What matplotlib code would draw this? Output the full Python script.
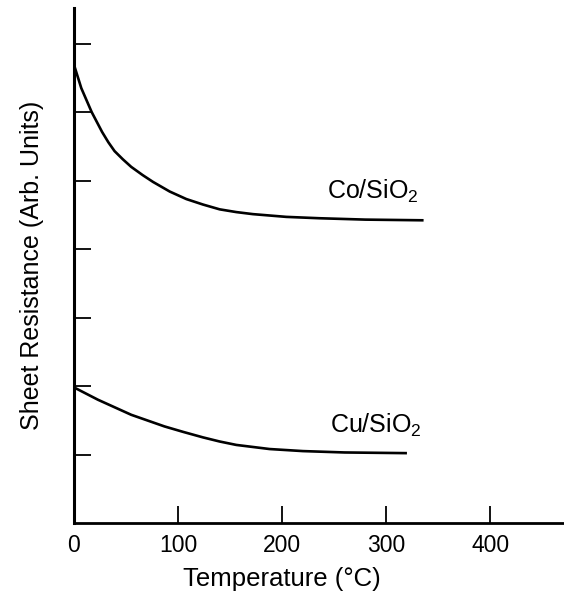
import matplotlib
matplotlib.use("Agg")
import matplotlib.pyplot as plt

plt.rcParams['font.family'] = ['Liberation Sans', 'DejaVu Sans']
plt.rcParams['mathtext.fontset'] = 'custom'
plt.rcParams['mathtext.rm'] = 'Liberation Sans'

# values (arbitrary units, ticks at 1..7)
co_temp = [0, 7, 17, 27, 33, 39, 47, 55, 66, 76, 92, 108, 124,
           140, 156, 172, 188, 204, 236, 280, 336]
co_res = [6.69, 6.35, 6.00, 5.71, 5.56, 5.43, 5.31, 5.20, 5.08, 4.98, 4.84,
          4.73, 4.65, 4.58, 4.54, 4.51, 4.49, 4.47, 4.45, 4.43, 4.42]

cu_temp = [0, 23, 55, 87, 105, 124, 140, 156, 188, 220, 260, 320]
cu_res = [1.98, 1.80, 1.58, 1.41, 1.33, 1.25, 1.19, 1.14, 1.08, 1.05, 1.03, 1.02]

x_ticks = [0, 100, 200, 300, 400]
y_ticks = [1, 2, 3, 4, 5, 6, 7]

fig = plt.figure(figsize=(5.64, 5.92), dpi=100)
ax = fig.add_axes([74 / 564, 69 / 592, 489 / 564, 515 / 592])

ax.plot(co_temp, co_res, color='black', lw=1.9, solid_capstyle='butt',
        solid_joinstyle='round')
ax.plot(cu_temp, cu_res, color='black', lw=1.9, solid_capstyle='butt',
        solid_joinstyle='round')

ax.text(243, 4.73, 'Co/SiO$_2$', fontsize=18, va='baseline', ha='left')
ax.text(246, 1.31, 'Cu/SiO$_2$', fontsize=18, va='baseline', ha='left')

ax.set_xlim(0, 470)
ax.set_ylim(0, 7.52)
ax.set_xticks(x_ticks)
ax.set_yticks(y_ticks)
ax.set_yticklabels([])

ax.spines['top'].set_visible(False)
ax.spines['right'].set_visible(False)
ax.spines['left'].set_linewidth(2.2)
ax.spines['bottom'].set_linewidth(2.0)
ax.tick_params(axis='both', direction='in', length=12, width=1.3, labelsize=16.5)
ax.tick_params(axis='x', pad=8)

ax.set_xlabel('Temperature (°C)', fontsize=18.5, labelpad=7)
ax.xaxis.set_label_coords(0.425, -0.085)
ax.set_ylabel('Sheet Resistance (Arb. Units)', fontsize=18, labelpad=18)

fig.savefig('out.png', dpi=100)
